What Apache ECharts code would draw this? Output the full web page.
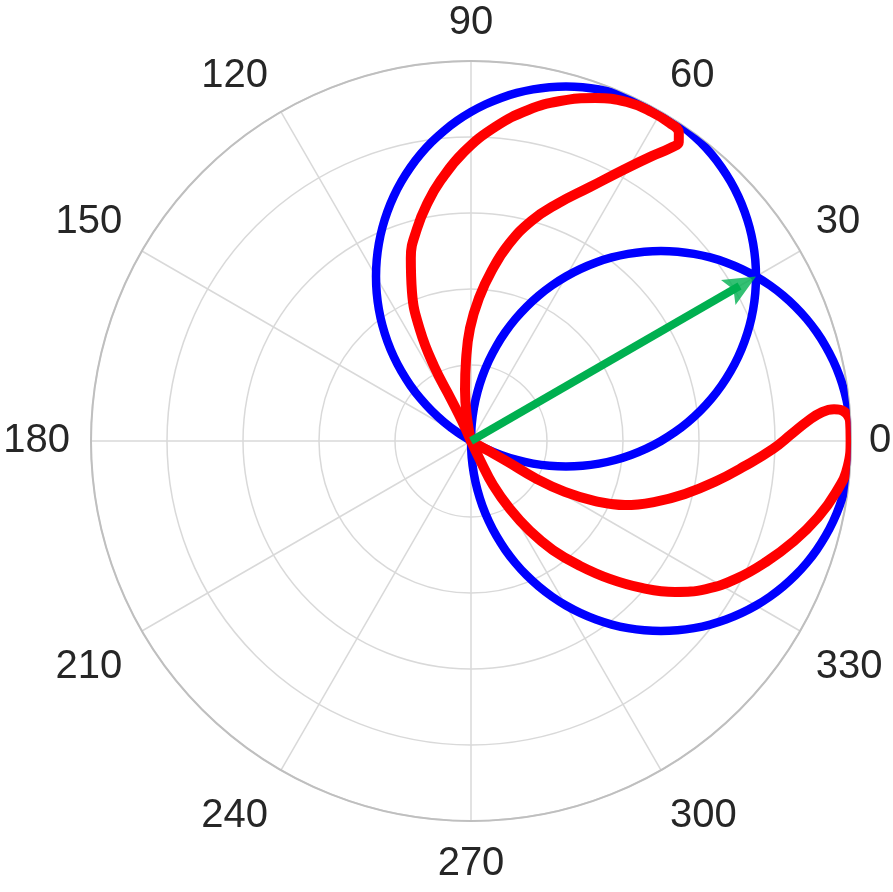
<!DOCTYPE html>
<html>
<head>
<meta charset="utf-8">
<script src="https://cdn.jsdelivr.net/npm/echarts@6/dist/echarts.min.js"></script>
<style>
html,body{margin:0;padding:0;background:#fff;}
#chart{width:893px;height:892px;}
</style>
</head>
<body>
<div id="chart"></div>
<script>
// Angle tick labels (degrees)
var angleTicks = [0, 30, 60, 90, 120, 150, 180, 210, 240, 270, 300, 330];

// Blue circles: radius vs. angle offset from each circle's axis direction
var circleOffsets = [-90, -87.5, -85, -82.5, -80, -77.5, -75, -72.5, -70, -67.5, -65, -62.5, -60, -57.5, -55, -52.5, -50, -47.5,
                     -45, -42.5, -40, -37.5, -35, -32.5, -30, -27.5, -25, -22.5, -20, -17.5, -15, -12.5, -10, -7.5, -5, -2.5, 0,
                     2.5, 5, 7.5, 10, 12.5, 15, 17.5, 20, 22.5, 25, 27.5, 30, 32.5, 35, 37.5, 40, 42.5, 45,
                     47.5, 50, 52.5, 55, 57.5, 60, 62.5, 65, 67.5, 70, 72.5, 75, 77.5, 80, 82.5, 85, 87.5, 90];
var circleRadii = [0, 0.0436, 0.0872, 0.1305, 0.1736, 0.2164, 0.2588, 0.3007, 0.3420, 0.3827, 0.4226, 0.4617, 0.5, 0.5373, 0.5736, 0.6088, 0.6428, 0.6756,
                   0.7071, 0.7373, 0.7660, 0.7934, 0.8192, 0.8434, 0.8660, 0.8870, 0.9063, 0.9239, 0.9397, 0.9537, 0.9659, 0.9763, 0.9848, 0.9914, 0.9962, 0.9990, 1,
                   0.9990, 0.9962, 0.9914, 0.9848, 0.9763, 0.9659, 0.9537, 0.9397, 0.9239, 0.9063, 0.8870, 0.8660, 0.8434, 0.8192, 0.7934, 0.7660, 0.7373, 0.7071,
                   0.6756, 0.6428, 0.6088, 0.5736, 0.5373, 0.5, 0.4617, 0.4226, 0.3827, 0.3420, 0.3007, 0.2588, 0.2164, 0.1736, 0.1305, 0.0872, 0.0436, 0];
var circleAxes = [0, 60];

// Red curve, lower lobe: [radius, angle]
var redLower = [
  [0, -64.5], [0.061, -64.5], [0.129, -63.4], [0.206, -60.2], [0.283, -56.8], [0.359, -53.1],
  [0.436, -48.9], [0.515, -44.8], [0.593, -40.7], [0.668, -36.5], [0.731, -32.2], [0.786, -27.5],
  [0.839, -22.3], [0.890, -17.2], [0.935, -12.4], [0.970, -8.0], [0.994, -3.8], [0.999, 0.2],
  [0.999, 2.9], [0.985, 4.5], [0.959, 5.0], [0.927, 4.7], [0.888, 3.4], [0.845, 1.3],
  [0.795, -1.5], [0.724, -5.2], [0.651, -9.5], [0.580, -13.9], [0.510, -18.3], [0.439, -22.6],
  [0.363, -25.8], [0.281, -28.5], [0.195, -30.0], [0.112, -29.6], [0.048, -29.4], [0, -29.4]
];
// Red curve, upper lobe: [radius, angle]
var redUpper = [
  [0, 114.2], [0.058, 114.2], [0.122, 115.5], [0.220, 116.3], [0.321, 114.7], [0.422, 111.6],
  [0.507, 108.2], [0.576, 104.3], [0.639, 100.2], [0.691, 96.6], [0.761, 91.4], [0.829, 85.6],
  [0.884, 80.2], [0.925, 75.3], [0.960, 70.1], [0.982, 65.3], [0.988, 61.2], [0.987, 58.0],
  [0.978, 56.0], [0.958, 55.2], [0.934, 55.7], [0.888, 57.6], [0.818, 60.7], [0.738, 64.9],
  [0.663, 70.1], [0.600, 74.7], [0.528, 79.1], [0.453, 83.0], [0.377, 86.8], [0.297, 90.5],
  [0.214, 93.5], [0.135, 96.7], [0.061, 99.9], [0, 99.9]
];

// Green arrow
var arrowAngle = 30;
var arrowR = 0.866;

function circleData(axis) { return circleRadii.map(function (r, i) { return [r, circleOffsets[i] + axis]; }); }

// arrow head whose tip sits at the centre of its bounding box
var arrowHead = 'path://M0,-32L0.01,-32M0,0L14,32L0,26L-14,32Z';

// per-label nudges (padding: top, right, bottom, left)
var labelFont = { fontSize: 40, color: '#262626', fontFamily: 'Liberation Sans, Arial, sans-serif' };
var labelPads = { 120: [0, 4, 0, 0], 150: [0, 4, 0, 0], 180: [0, 3, 0, 0], 210: [7, 4, 0, 0],
                  240: [10, 4, 0, 0], 270: [5, 0, 0, 0], 300: [10, 0, 0, 0], 330: [7, 0, 0, 0] };
var rich = { n: Object.assign({}, labelFont) };
Object.keys(labelPads).forEach(function (k) { rich['p' + k] = Object.assign({ padding: labelPads[k] }, labelFont); });

var blueSeries = circleAxes.map(function (ax) {
  return { type: 'line', coordinateSystem: 'polar', data: circleData(ax), smooth: 0.3,
    showSymbol: false, symbol: 'none', lineStyle: { color: '#0000ff', width: 8.5, join: 'round' }, z: 2 };
});

var chart = echarts.init(document.getElementById('chart'));
var option = {
  animation: false,
  backgroundColor: '#ffffff',
  polar: { center: [471, 441], radius: 380 },
  angleAxis: {
    type: 'value', min: 0, max: 360, interval: 30, startAngle: 0, clockwise: false,
    axisLine: { show: true, lineStyle: { color: '#bfbfbf', width: 2 } },
    axisTick: { show: false },
    axisLabel: Object.assign({
      margin: 18,
      formatter: function (v) {
        if (angleTicks.indexOf(v) < 0) return '';
        return labelPads[v] ? '{p' + v + '|' + v + '}' : '{n|' + v + '}';
      },
      rich: rich
    }, labelFont),
    splitLine: { show: true, lineStyle: { color: '#d9d9d9', width: 1.5 } }
  },
  radiusAxis: {
    type: 'value', min: 0, max: 1, interval: 0.2,
    axisLine: { show: false }, axisTick: { show: false }, axisLabel: { show: false },
    splitLine: { show: true, lineStyle: { color: '#d9d9d9', width: 1.5 } }
  },
  series: blueSeries.concat([
    { type: 'line', coordinateSystem: 'polar', data: redLower, smooth: 0.45,
      showSymbol: false, symbol: 'none', lineStyle: { color: '#ff0000', width: 10, cap: 'round', join: 'round' }, z: 3 },
    { type: 'line', coordinateSystem: 'polar', data: redUpper, smooth: 0.45,
      showSymbol: false, symbol: 'none', lineStyle: { color: '#ff0000', width: 10, cap: 'round', join: 'round' }, z: 3 },
    { type: 'line', coordinateSystem: 'polar', data: [[0, arrowAngle], [arrowR - 0.05, arrowAngle]],
      showSymbol: false, symbol: 'none', lineStyle: { color: '#00b050', width: 8 }, z: 4 },
    { type: 'scatter', coordinateSystem: 'polar', data: [[arrowR, arrowAngle]],
      symbol: arrowHead, symbolSize: [29, 64], symbolRotate: arrowAngle - 90,
      itemStyle: { color: '#00b050' }, z: 5 }
  ])
};
chart.setOption(option);
</script>
</body>
</html>
